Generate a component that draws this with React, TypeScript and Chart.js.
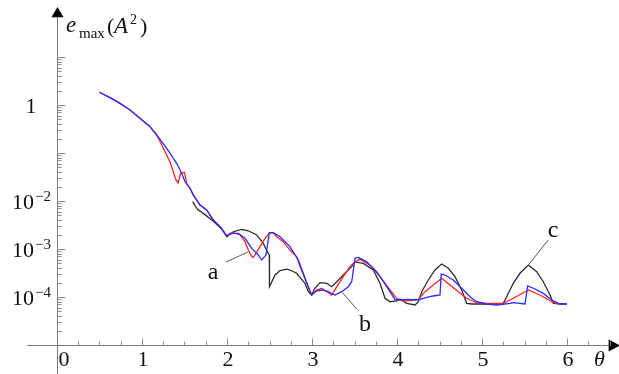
import React, { useEffect, useRef } from 'react';
import { Chart, registerables } from 'chart.js';
Chart.register(...registerables);

// curve a (red)
const curveRed: [number, number][] = [
  [0.498, 1.84], [0.624, 1.42], [0.741, 1.08], [0.859, 0.787], [0.976, 0.528], [1.094, 0.353], [1.173, 0.237],
  [1.232, 0.147], [1.329, 0.0659], [1.40, 0.0274], [1.424, 0.0237], [1.455, 0.0383], [1.50, 0.0393], [1.524, 0.0237],
  [1.565, 0.0184], [1.604, 0.0133], [1.682, 0.00826], [1.761, 0.0065], [1.839, 0.00402], [1.918, 0.00292], [1.996, 0.00187],
  [2.074, 0.00219], [2.153, 0.00196], [2.212, 0.00142], [2.251, 0.00095], [2.291, 0.00069], [2.309, 0.00067], [2.329, 0.00075],
  [2.388, 0.00112], [2.447, 0.00167], [2.498, 0.00212], [2.545, 0.00219], [2.585, 0.0018], [2.662, 0.00142], [2.741, 0.00095],
  [2.82, 0.00069], [2.859, 0.00043], [2.956, 0.000164], [2.996, 0.00011], [3.055, 0.00014], [3.114, 0.000152], [3.173, 0.000129],
  [3.232, 0.00011], [3.291, 0.000164], [3.368, 0.000265], [3.447, 0.00043], [3.506, 0.00054], [3.565, 0.00061], [3.682, 0.00046],
  [3.8, 0.000265], [3.918, 0.00014], [3.996, 0.000094], [4.074, 0.0000826], [4.153, 0.0000837], [4.251, 0.0000895], [4.329, 0.000129],
  [4.427, 0.000178], [4.526, 0.000245], [4.624, 0.000178], [4.721, 0.000129], [4.82, 0.000094], [4.938, 0.000076], [5.055, 0.0000739],
  [5.251, 0.0000739], [5.368, 0.000094], [5.545, 0.00014], [5.682, 0.00011], [5.82, 0.0000798], [5.898, 0.0000715], [5.996, 0.0000715],
];

// curve b (blue)
const curveBlue: [number, number][] = [
  [0.498, 1.84], [0.624, 1.42], [0.741, 1.08], [0.859, 0.787], [0.976, 0.528], [1.094, 0.353], [1.173, 0.237],
  [1.291, 0.125], [1.408, 0.061], [1.467, 0.0378], [1.506, 0.0252], [1.565, 0.0184], [1.604, 0.0133], [1.682, 0.00826],
  [1.761, 0.0065], [1.839, 0.00402], [1.918, 0.00292], [1.996, 0.00187], [2.035, 0.00212], [2.133, 0.00212], [2.212, 0.00167],
  [2.291, 0.00103], [2.368, 0.00075], [2.408, 0.00059], [2.459, 0.00075], [2.498, 0.00219], [2.545, 0.00219], [2.624, 0.0018],
  [2.741, 0.00112], [2.839, 0.00059], [2.956, 0.000164], [2.996, 0.00011], [3.055, 0.000135], [3.133, 0.00014], [3.192, 0.000129],
  [3.271, 0.00011], [3.349, 0.000129], [3.427, 0.000164], [3.467, 0.000208], [3.506, 0.00064], [3.545, 0.00067], [3.644, 0.00054],
  [3.761, 0.000337], [3.879, 0.000164], [3.976, 0.0000895], [4.035, 0.0000866], [4.133, 0.0000895], [4.212, 0.0000866],
  [4.271, 0.0000895], [4.349, 0.0000986], [4.427, 0.000105], [4.506, 0.00011], [4.52, 0.0003], [4.565, 0.000287], [4.662, 0.000226],
  [4.761, 0.000152], [4.859, 0.000101], [4.938, 0.0000798], [5.055, 0.0000715], [5.173, 0.0000681], [5.329, 0.0000739],
  [5.368, 0.000076], [5.506, 0.0000715], [5.537, 0.00017], [5.604, 0.000152], [5.721, 0.000119], [5.82, 0.0000866],
  [5.918, 0.0000715], [5.996, 0.0000715],
];

// curve c (black)
const curveBlack: [number, number][] = [
  [1.596, 0.00967], [1.65, 0.0068], [1.741, 0.0052], [1.839, 0.0038], [1.918, 0.0028], [1.956, 0.0024], [1.996, 0.0018],
  [2.074, 0.00229], [2.173, 0.00257], [2.251, 0.0024], [2.349, 0.00196], [2.427, 0.00131], [2.474, 0.00088], [2.498, 0.00075],
  [2.5, 0.000164], [2.565, 0.000287], [2.624, 0.000356], [2.702, 0.00038], [2.741, 0.000365], [2.82, 0.000312], [2.859, 0.000257],
  [2.918, 0.000193], [2.956, 0.000129], [2.996, 0.00011], [3.035, 0.000154], [3.094, 0.000199], [3.173, 0.000193], [3.232, 0.000164],
  [3.291, 0.000208], [3.368, 0.000287], [3.467, 0.00043], [3.506, 0.00054], [3.604, 0.0005], [3.721, 0.000365], [3.8, 0.000193],
  [3.859, 0.000094], [3.918, 0.0000798], [3.996, 0.0000826], [4.035, 0.0000906], [4.114, 0.0000739], [4.212, 0.0000681],
  [4.251, 0.0000798], [4.291, 0.000129], [4.368, 0.000226], [4.447, 0.000365], [4.526, 0.000487], [4.604, 0.000396],
  [4.682, 0.000265], [4.761, 0.00014], [4.82, 0.0000739], [4.879, 0.0000715], [5.015, 0.0000715], [5.173, 0.0000715],
  [5.251, 0.0000739], [5.29, 0.000101], [5.368, 0.000193], [5.447, 0.000312], [5.545, 0.000464], [5.644, 0.000337],
  [5.721, 0.000208], [5.8, 0.00011], [5.839, 0.0000739], [5.996, 0.0000715],
];

const xTickValues = [0, 1, 2, 3, 4, 5, 6];
const xTickLabels = ['0', '1', '2', '3', '4', '5', '6'];
const yTickValues = [1, 1e-2, 1e-3, 1e-4];
const yTickBases = ['1', '10', '10', '10'];
const yTickExps = ['', '\u22122', '\u22123', '\u22124'];
const curveNames = ['a', 'b', 'c'];

const SERIF = '"Liberation Serif", "Times New Roman", serif';

const axesPlugin = {
  id: 'customAxes',
  beforeDatasetsDraw(chart: any) {
    const { ctx } = chart;
    const xs = chart.scales.x;
    const ys = chart.scales.y;
    const px = (v: number) => xs.getPixelForValue(v);
    const py = (v: number) => ys.getPixelForValue(v);
    const x0 = Math.round(px(0)) + 0.5;
    const y0 = Math.round(py(1e-5)) + 0.5;
    ctx.save();
    ctx.strokeStyle = '#7a7a7a';
    ctx.fillStyle = '#000';
    ctx.lineWidth = 1;
    // x axis
    const xEnd = px(6.49);
    ctx.beginPath();
    ctx.moveTo(px(-0.35), y0);
    ctx.lineTo(xEnd, y0);
    ctx.stroke();
    ctx.beginPath();
    ctx.moveTo(xEnd, y0 - 6);
    ctx.lineTo(px(6.62), y0);
    ctx.lineTo(xEnd, y0 + 6);
    ctx.closePath();
    ctx.fill();
    // y axis
    const yTop = py(Math.pow(10, 1.83));
    ctx.beginPath();
    ctx.moveTo(x0, chart.chartArea.bottom);
    ctx.lineTo(x0, yTop);
    ctx.stroke();
    ctx.beginPath();
    ctx.moveTo(x0 - 6, yTop);
    ctx.lineTo(x0, py(Math.pow(10, 2.04)));
    ctx.lineTo(x0 + 6, yTop);
    ctx.closePath();
    ctx.fill();
    // x ticks
    ctx.strokeStyle = '#8a8a8a';
    for (let i = 0; i <= 26; i++) {
      const v = i * 0.25;
      if (v === 0) continue;
      const xx = Math.round(px(v)) + 0.5;
      const len = i % 4 === 0 ? 7 : 4;
      ctx.beginPath();
      ctx.moveTo(xx, y0);
      ctx.lineTo(xx, y0 - len);
      ctx.stroke();
    }
    // y ticks (log)
    for (let d = -5; d <= 1; d++) {
      for (let m = 1; m <= 9; m++) {
        const v = m * Math.pow(10, d);
        if (v > 10.0001) continue;
        if (d === -5 && m === 1) continue;
        const yy = Math.round(py(v)) + 0.5;
        const len = m === 1 ? 8 : 4;
        ctx.beginPath();
        ctx.moveTo(x0, yy);
        ctx.lineTo(x0 + len, yy);
        ctx.stroke();
      }
    }
    // x labels
    ctx.fillStyle = '#111';
    ctx.font = `22px ${SERIF}`;
    ctx.textAlign = 'center';
    ctx.textBaseline = 'alphabetic';
    xTickValues.forEach((v, i) => {
      const off = v === 0 ? 7 : 1;
      ctx.fillText(xTickLabels[i], px(v) + off, y0 + 20);
    });
    // theta
    ctx.font = `italic 22px ${SERIF}`;
    ctx.fillText('\u03b8', px(6.38), y0 + 20);
    // y labels
    yTickValues.forEach((v, i) => {
      const yy = py(v);
      if (!yTickExps[i]) {
        ctx.font = `22px ${SERIF}`;
        ctx.textAlign = 'center';
        ctx.fillText(yTickBases[i], 31, yy + 8);
      } else {
        ctx.font = `15px ${SERIF}`;
        const ew = ctx.measureText(yTickExps[i]).width;
        ctx.textAlign = 'left';
        ctx.fillText(yTickExps[i], 51 - ew, yy);
        ctx.font = `22px ${SERIF}`;
        const bw = ctx.measureText(yTickBases[i]).width;
        ctx.fillText(yTickBases[i], 50 - ew - bw, yy + 8);
      }
    });
    // y axis title  e_max (A^2)
    ctx.textAlign = 'left';
    ctx.font = `italic 23px ${SERIF}`;
    ctx.fillText('e', 66, 32);
    ctx.font = `15px ${SERIF}`;
    ctx.fillText('max', 79, 38);
    ctx.font = `22px ${SERIF}`;
    ctx.fillText('(', 107, 33);
    ctx.font = `italic 23px ${SERIF}`;
    ctx.fillText('A', 114, 33);
    ctx.font = `14px ${SERIF}`;
    ctx.fillText('2', 130, 24);
    ctx.font = `22px ${SERIF}`;
    ctx.fillText(')', 140, 33);
    ctx.restore();
  },
  afterDatasetsDraw(chart: any) {
    const { ctx } = chart;
    const xs = chart.scales.x;
    const ys = chart.scales.y;
    const P = (t: number, v: number) => [xs.getPixelForValue(t), ys.getPixelForValue(v)];
    const notes = [
      { text: curveNames[0], at: [1.835, 2.37e-4], from: [1.988, 5.36e-4], to: [2.247, 8.66e-4] },
      { text: curveNames[1], at: [3.624, 1.96e-5], from: [3.526, 5.6e-5], to: [3.359, 1.24e-4] },
      { text: curveNames[2], at: [5.835, 1.78e-3], from: [5.78, 1.54e-3], to: [5.545, 4.64e-4] },
    ];
    ctx.save();
    ctx.strokeStyle = '#555';
    ctx.lineWidth = 1;
    ctx.fillStyle = '#111';
    ctx.font = `24px ${SERIF}`;
    ctx.textAlign = 'center';
    ctx.textBaseline = 'alphabetic';
    notes.forEach((n) => {
      const [tx, ty] = P(n.at[0], n.at[1]);
      ctx.fillText(n.text, tx, ty);
      const [ax, ay] = P(n.from[0], n.from[1]);
      const [bx, by] = P(n.to[0], n.to[1]);
      ctx.beginPath();
      ctx.moveTo(ax, ay);
      ctx.lineTo(bx, by);
      ctx.stroke();
    });
    ctx.restore();
  },
};

export default function App() {
  const ref = useRef<HTMLCanvasElement | null>(null);
  useEffect(() => {
    document.body.style.margin = '0';
    const canvas = ref.current;
    if (!canvas) return;
    const toPts = (arr: [number, number][]) => arr.map(([x, y]) => ({ x, y }));
    const chart = new Chart(canvas, {
      type: 'scatter',
      data: {
        datasets: [
          { label: 'b', data: toPts(curveBlue), borderColor: '#2a2aff', showLine: true, pointRadius: 0, borderWidth: 1.3, tension: 0 },
          { label: 'a', data: toPts(curveRed), borderColor: '#ff2020', showLine: true, pointRadius: 0, borderWidth: 1.3, tension: 0 },
          { label: 'c', data: toPts(curveBlack), borderColor: '#2b2b2b', showLine: true, pointRadius: 0, borderWidth: 1.3, tension: 0 },
        ],
      },
      options: {
        animation: false,
        responsive: false,
        devicePixelRatio: 1,
        layout: { padding: 0 },
        plugins: { legend: { display: false }, tooltip: { enabled: false } },
        scales: {
          x: { type: 'linear', min: -57 / 85, max: (619 - 57) / 85, display: false, bounds: 'data' },
          y: { type: 'logarithmic', min: Math.pow(10, -269 / 48), max: Math.pow(10, 105 / 48), display: false, bounds: 'data' },
        },
      },
      plugins: [axesPlugin],
    });
    return () => chart.destroy();
  }, []);
  return (
    <div style={{ width: 619, height: 374, background: '#fff' }}>
      <canvas ref={ref} width={619} height={374} style={{ display: 'block' }} />
    </div>
  );
}
